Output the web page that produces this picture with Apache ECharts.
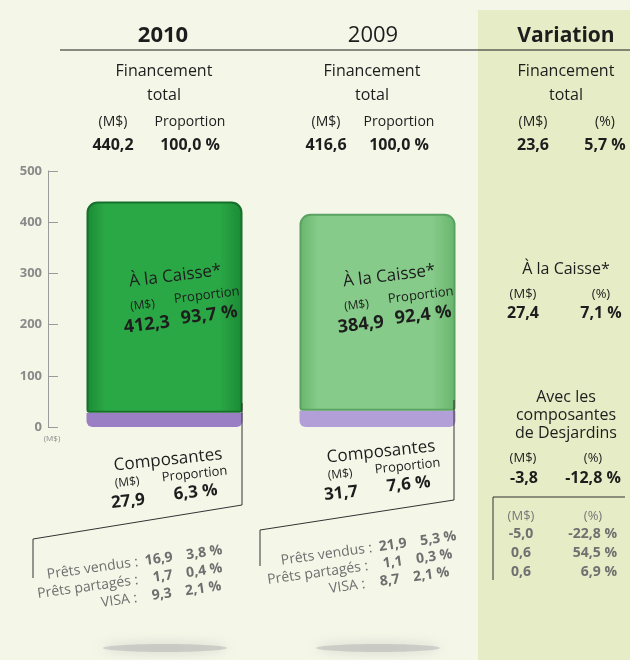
<!DOCTYPE html>
<html>
<head>
<meta charset="utf-8">
<title>Financement</title>
<script src="https://cdn.jsdelivr.net/npm/echarts@6/dist/echarts.min.js"></script>
<style>
  body { margin: 0; background: #f4f6e8; }
  #main { width: 630px; height: 660px; }
</style>
</head>
<body>
<div id="main"></div>
<script type="text/javascript">

// data
var years = ['2010', '2009'];
var caisse = [412.3, 384.9];
var caissePct = [93.7, 92.4];
var composantes = [27.9, 31.7];
var composantesPct = [6.3, 7.6];
var totals = [440.2, 416.6];
var detailLabels = ['Prêts vendus :', 'Prêts partagés :', 'VISA :'];
var details2010 = [16.9, 1.7, 9.3];
var detailsPct2010 = [3.8, 0.4, 2.1];
var details2009 = [21.9, 1.1, 8.7];
var detailsPct2009 = [5.3, 0.3, 2.1];
var varTotal = [23.6, 5.7];
var varCaisse = [27.4, 7.1];
var varComp = [-3.8, -12.8];
var varDetails = [-5.0, 0.6, 0.6];
var varDetailsPct = [-22.8, 54.5, 6.9];

var FONT = '"Open Sans", "Noto Sans", sans-serif';

function fr(v) { return v.toFixed(1).replace('.', ','); }
function pct(v) { return fr(v) + ' %'; }

function txt(x, y, s, o) {
  o = o || {};
  return {
    type: 'text', x: x, y: y, z: 10,
    style: {
      text: s, fill: o.color || '#1d1d1d',
      fontSize: o.size || 15, fontWeight: o.weight || 'normal',
      fontFamily: FONT, textAlign: o.align || 'center', textVerticalAlign: 'middle'
    }
  };
}
function grp(x, y, deg, children) {
  return { type: 'group', x: x, y: y, rotation: deg * Math.PI / 180, children: children, z: 10 };
}
function line(points, color) {
  return { type: 'polyline', z: 5, shape: { points: points }, style: { stroke: color || '#333', lineWidth: 1, fill: null } };
}

var chart = echarts.init(document.getElementById('main'));

var greens = [
  new echarts.graphic.LinearGradient(0, 0, 1, 0, [
    { offset: 0, color: '#1a8a35' }, { offset: 0.12, color: '#2ba846' },
    { offset: 0.85, color: '#2ba846' }, { offset: 1, color: '#1a8a35' }]),
  new echarts.graphic.LinearGradient(0, 0, 1, 0, [
    { offset: 0, color: '#68b56d' }, { offset: 0.12, color: '#86cb89' },
    { offset: 0.85, color: '#86cb89' }, { offset: 1, color: '#68b56d' }])
];
var purples = ['#9a7fc4', '#b39fd8'];
var greenBorders = ['#166f2b', '#5aa261'];

var graphics = [];

// Variation column background
graphics.push({ type: 'rect', z: -10, shape: { x: 478, y: 10, width: 152, height: 650 }, style: { fill: '#e6ecc6' } });
// soft shadows under bars
[165, 378].forEach(function (cx) {
  graphics.push({ type: 'ellipse', z: -5, shape: { cx: cx, cy: 648, rx: 62, ry: 4 },
    style: { fill: 'rgba(170,170,170,0.45)', shadowBlur: 12, shadowColor: 'rgba(150,150,150,0.8)' } });
});

// header
graphics.push(line([[60, 50], [630, 50]], '#1d1d1d'));
graphics.push(txt(163, 36, '2010', { size: 22, weight: 'bold' }));
graphics.push(txt(373, 36, '2009', { size: 22 }));
graphics.push(txt(566, 36, 'Variation', { size: 21, weight: 'bold' }));

var headX = [[113, 190, 164], [326, 399, 372]];
for (var i = 0; i < 2; i++) {
  graphics.push(txt(headX[i][2], 71, 'Financement', { size: 16 }));
  graphics.push(txt(headX[i][2], 95, 'total', { size: 16 }));
  graphics.push(txt(headX[i][0], 122, '(M$)', { size: 14 }));
  graphics.push(txt(headX[i][1], 122, 'Proportion', { size: 14 }));
  graphics.push(txt(headX[i][0], 145, fr(totals[i]), { size: 16, weight: 'bold' }));
  graphics.push(txt(headX[i][1], 145, pct(100), { size: 16, weight: 'bold' }));
}
graphics.push(txt(566, 71, 'Financement', { size: 16 }));
graphics.push(txt(566, 95, 'total', { size: 16 }));
graphics.push(txt(533, 122, '(M$)', { size: 14 }));
graphics.push(txt(605, 122, '(%)', { size: 14 }));
graphics.push(txt(533, 145, fr(varTotal[0]), { size: 16, weight: 'bold' }));
graphics.push(txt(605, 145, pct(varTotal[1]), { size: 16, weight: 'bold' }));

// variation: à la caisse
graphics.push(txt(566, 269, 'À la Caisse*', { size: 16 }));
graphics.push(txt(523, 294, '(M$)', { size: 13 }));
graphics.push(txt(601, 294, '(%)', { size: 13 }));
graphics.push(txt(523, 313, fr(varCaisse[0]), { size: 16, weight: 'bold' }));
graphics.push(txt(601, 313, pct(varCaisse[1]), { size: 16, weight: 'bold' }));
// variation: composantes
graphics.push(txt(566, 397, 'Avec les', { size: 16 }));
graphics.push(txt(566, 415, 'composantes', { size: 16 }));
graphics.push(txt(566, 433, 'de Desjardins', { size: 16 }));
graphics.push(txt(523, 458, '(M$)', { size: 13 }));
graphics.push(txt(593, 458, '(%)', { size: 13 }));
graphics.push(txt(524, 478, fr(varComp[0]), { size: 16, weight: 'bold' }));
graphics.push(txt(593, 478, pct(varComp[1]), { size: 16, weight: 'bold' }));
graphics.push(line([[493, 497], [625, 497]]));
graphics.push(line([[493, 497], [493, 580]]));
graphics.push(txt(521, 516, '(M$)', { size: 13, color: '#777' }));
graphics.push(txt(593, 516, '(%)', { size: 13, color: '#777' }));
for (var k = 0; k < 3; k++) {
  graphics.push(txt(521, 534 + k * 19, fr(varDetails[k]), { size: 14, weight: 'bold', color: '#707070' }));
  graphics.push(txt(617, 534 + k * 19, pct(varDetailsPct[k]), { size: 14, weight: 'bold', color: '#707070', align: 'right' }));
}

// labels on the bars
var barCx = [177, 391];
for (var i = 0; i < 2; i++) {
  graphics.push(grp(barCx[i], 291, 7, [
    txt(0, -15, 'À la Caisse*', { size: 17 }),
    txt(-36, 10, '(M$)', { size: 12 }),
    txt(29, 8, 'Proportion', { size: 13 }),
    txt(-34, 30, fr(caisse[i]), { size: 18, weight: 'bold' }),
    txt(29, 28, pct(caissePct[i]), { size: 18, weight: 'bold' })
  ]));
}

// composantes blocks
var compO = [[168, 460], [381, 452]];
for (var i = 0; i < 2; i++) {
  graphics.push(grp(compO[i][0], compO[i][1], 6, [
    txt(0, 0, 'Composantes', { size: 17 }),
    txt(-43, 18, '(M$)', { size: 12 }),
    txt(25, 17, 'Proportion', { size: 13 }),
    txt(-44, 37, fr(composantes[i]), { size: 17, weight: 'bold' }),
    txt(24, 35, pct(composantesPct[i]), { size: 17, weight: 'bold' })
  ]));
}
graphics.push(line([[242, 403], [242, 505], [33, 539], [33, 578]]));
graphics.push(line([[454, 400], [454, 500], [260, 530], [260, 566]]));

// details
var rowO = [[[138, 562], [138, 580], [137, 598]], [[372, 548], [368, 566], [365, 584]]];
var dv = [details2010, details2009], dp = [detailsPct2010, detailsPct2009];
for (var i = 0; i < 2; i++) {
  for (var k = 0; k < 3; k++) {
    graphics.push(grp(rowO[i][k][0], rowO[i][k][1], 8, [
      txt(0, 0, detailLabels[k], { size: 14, color: '#6e6e6e', align: 'right' }),
      txt(35, 0, fr(dv[i][k]), { size: 14, weight: 'bold', color: '#6e6e6e', align: 'right' }),
      txt(85, 0, pct(dp[i][k]), { size: 14, weight: 'bold', color: '#6e6e6e', align: 'right' })
    ]));
  }
}

// small unit label under the axis
graphics.push(txt(52, 439, '(M$)', { size: 8, color: '#8a8a8a' }));

chart.setOption({
  backgroundColor: '#f4f6e8',
  animation: false,
  grid: { left: 58, top: 171, width: 426, height: 256 },
  xAxis: {
    type: 'category', data: years,
    axisLine: { show: false }, axisTick: { show: false }, axisLabel: { show: false }
  },
  yAxis: {
    type: 'value', min: 0, max: 500, interval: 100, offset: 10,
    axisLine: { show: true, lineStyle: { color: '#9a9a9a', width: 1 } },
    axisTick: { show: true, inside: true, length: 10, lineStyle: { color: '#9a9a9a' } },
    axisLabel: { color: '#8a8a8a', fontSize: 13, fontWeight: 'bold', fontFamily: FONT, margin: 6, padding: [0, 0, 10, 0] },
    splitLine: { show: false }
  },
  series: [
    {
      name: 'Composantes', type: 'bar', stack: 'total', barWidth: 156,
      data: composantes.map(function (v, i) {
        return { value: v, itemStyle: { color: purples[i], borderRadius: [0, 0, 6, 6] } };
      })
    },
    {
      name: 'À la Caisse', type: 'bar', stack: 'total', barWidth: 156,
      data: caisse.map(function (v, i) {
        return { value: v, itemStyle: { color: greens[i], borderColor: greenBorders[i], borderWidth: 2, borderRadius: [10, 10, 2, 2] } };
      })
    }
  ],
  graphic: graphics
});
</script>
</body>
</html>
